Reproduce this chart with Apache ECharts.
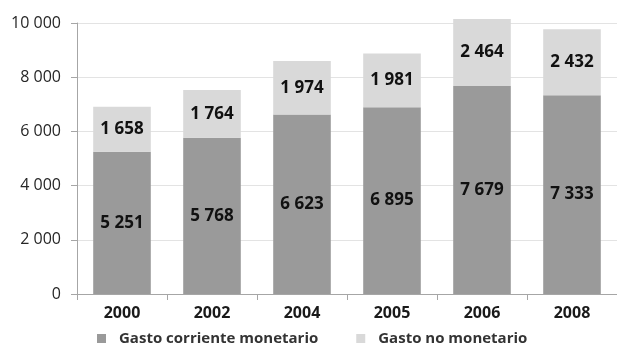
<!DOCTYPE html>
<html>
<head>
<meta charset="utf-8">
<script src="https://cdn.jsdelivr.net/npm/echarts@6/dist/echarts.min.js"></script>
<style>
  html, body { margin: 0; padding: 0; background: #fff; }
  #chart { width: 617px; height: 345px; }
</style>
</head>
<body>
<div id="chart"></div>
<script>
// Años y componentes del gasto
const years = ['2000', '2002', '2004', '2005', '2006', '2008'];
const gastoMonetario = [5251, 5768, 6623, 6895, 7679, 7333];
const gastoNoMonetario = [1658, 1764, 1974, 1981, 2464, 2432];
const yTicks = { min: 0, max: 10000, interval: 2000 };

// Separador de miles con espacio
function fmt(v) {
  return String(v).replace(/\B(?=(\d{3})+(?!\d))/g, ' ');
}

const FONT = '"Open Sans", sans-serif';

const chart = echarts.init(document.getElementById('chart'));
chart.setOption({
  animation: false,
  textStyle: { fontFamily: FONT },
  grid: { left: 77, top: 23, width: 546, height: 271, containLabel: false },
  legend: {
    top: 326,
    left: 92,
    itemWidth: 9,
    itemHeight: 9,
    itemGap: 38,
    icon: 'rect',
    textStyle: {
      fontFamily: FONT, fontWeight: 'bold', fontSize: 15, color: '#333',
      padding: [0, 0, 0, 8]
    },
    data: ['Gasto corriente monetario', 'Gasto no monetario']
  },
  xAxis: {
    type: 'category',
    data: years,
    axisLine: { lineStyle: { color: '#a6a6a6' } },
    axisTick: { show: true, length: 6, lineStyle: { color: '#a6a6a6' } },
    axisLabel: { fontFamily: FONT, fontWeight: 'bold', fontSize: 16, color: '#1a1a1a', margin: 11 }
  },
  yAxis: {
    type: 'value',
    min: yTicks.min,
    max: yTicks.max,
    interval: yTicks.interval,
    axisLine: { show: true, lineStyle: { color: '#a6a6a6' } },
    axisTick: { show: true, length: 6, lineStyle: { color: '#a6a6a6' } },
    splitLine: { lineStyle: { color: '#e3e3e3' } },
    axisLabel: { fontFamily: FONT, fontSize: 16, color: '#262626', margin: 16, formatter: fmt }
  },
  series: [
    {
      name: 'Gasto corriente monetario',
      type: 'bar',
      stack: 'gasto',
      barWidth: '64%',
      clip: false,
      data: gastoMonetario,
      itemStyle: { color: '#9a9a9a' },
      label: {
        show: true, position: 'inside', formatter: p => fmt(p.value),
        fontFamily: FONT, fontWeight: 'bold', fontSize: 17, color: '#111'
      }
    },
    {
      name: 'Gasto no monetario',
      type: 'bar',
      stack: 'gasto',
      clip: false,
      data: gastoNoMonetario,
      itemStyle: { color: '#d9d9d9' },
      label: {
        show: true, position: 'inside', formatter: p => fmt(p.value),
        fontFamily: FONT, fontWeight: 'bold', fontSize: 17, color: '#111'
      }
    }
  ]
});
</script>
</body>
</html>
